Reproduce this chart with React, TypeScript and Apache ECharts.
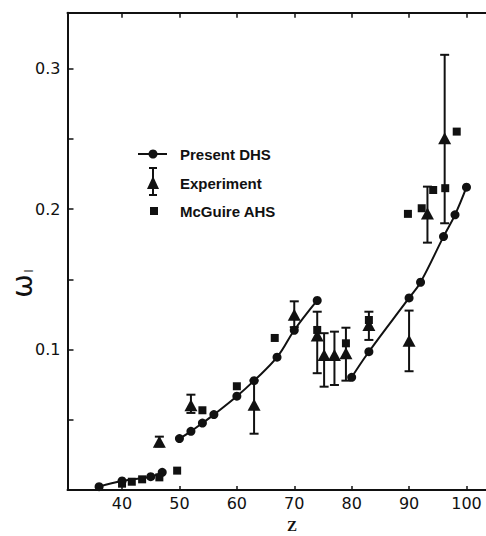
import React, { useEffect, useRef } from "react";
import * as echarts from "echarts";

// Present DHS calculation (three separate curve pieces)
const presentSeg1: [number, number][] = [
  [36, 0.0024], [40, 0.0064], [45, 0.0095], [47, 0.0126],
];
const presentSeg2: [number, number][] = [
  [50, 0.0366], [52, 0.0418], [54, 0.0477], [56, 0.0537], [60, 0.0668],
  [63, 0.0779], [67, 0.0946], [70, 0.1138], [74, 0.135],
];
const presentSeg3: [number, number][] = [
  [80, 0.0803], [83, 0.0985], [90, 0.1368], [92, 0.148], [96, 0.1805],
  [98, 0.196], [100, 0.2157],
];
// Experiment: [Z, value, low, high]
const experiment: [number, number, number, number][] = [
  [46.5, 0.0344, 0.031, 0.038],
  [52, 0.0603, 0.0549, 0.0679],
  [63, 0.0608, 0.0401, 0.078],
  [70, 0.1249, 0.116, 0.1344],
  [74, 0.110, 0.0832, 0.127],
  [75.2, 0.0962, 0.0736, 0.1117],
  [77, 0.0962, 0.0748, 0.1128],
  [79, 0.0974, 0.0779, 0.1156],
  [83, 0.1176, 0.1069, 0.127],
  [90, 0.1064, 0.0846, 0.1278],
  [93.2, 0.197, 0.1762, 0.2161],
  [96.2, 0.2506, 0.190, 0.310],
];
// McGuire AHS
const mcguire: [number, number][] = [
  [40, 0.0045], [41.7, 0.0059], [43.5, 0.0076], [46.5, 0.009], [49.6, 0.0138],
  [54, 0.0568], [60, 0.0739], [66.6, 0.1083], [74, 0.114], [79, 0.1045],
  [83, 0.1211], [89.8, 0.1967], [92.2, 0.2007], [94.2, 0.2137], [96.3, 0.215],
  [98.3, 0.2553],
];
const xTicks = [40, 50, 60, 70, 80, 90, 100];
const yTicks = [0.05, 0.1, 0.15, 0.2, 0.25, 0.3];
const yLabels = [0.1, 0.2, 0.3];
const legendNames = ["Present DHS", "Experiment", "McGuire AHS"];

const INK = "#111";

export default function App() {
  const ref = useRef<HTMLDivElement>(null);
  useEffect(() => {
    if (!ref.current) return;
    const chart = echarts.init(ref.current, undefined, { renderer: "svg" });
    const lineSeries = (data: [number, number][]) => ({
      type: "line",
      name: legendNames[0],
      data,
      smooth: 0.4,
      symbol: "circle",
      symbolSize: 9,
      itemStyle: { color: INK, opacity: 1 },
      lineStyle: { color: INK, width: 2 },
      z: 3,
    });
    const option: any = {
      animation: false,
      backgroundColor: "#fff",
      grid: { left: 67.5, right: 0, top: 12.7, bottom: 46 },
      xAxis: [
        {
          type: "value",
          min: 30.5,
          max: 103.4,
          axisLine: { show: true, lineStyle: { color: INK, width: 2 } },
          axisTick: { show: true, inside: true, length: 4, customValues: xTicks, lineStyle: { color: INK, width: 1.5 } },
          axisLabel: {
            customValues: xTicks,
            color: INK,
            fontFamily: "DejaVu Sans",
            fontSize: 16,
            margin: 5,
          },
          splitLine: { show: false },
        },
        {
          type: "value",
          position: "top",
          min: 30.5,
          max: 103.4,
          axisLine: { show: true, lineStyle: { color: INK, width: 2 } },
          axisTick: { show: true, inside: true, length: 5, customValues: xTicks, lineStyle: { color: INK, width: 1.5 } },
          axisLabel: { show: false },
          splitLine: { show: false },
        },
      ],
      yAxis: {
        type: "value",
        min: 0,
        max: 0.34,
        axisLine: { show: true, lineStyle: { color: INK, width: 2 } },
        axisTick: { show: true, inside: true, length: 6, customValues: yTicks, lineStyle: { color: INK, width: 1.5 } },
        axisLabel: {
          customValues: yLabels,
          formatter: (v: number) => v.toFixed(1),
          color: INK,
          fontFamily: "DejaVu Sans",
          fontSize: 16,
          margin: 7,
        },
        splitLine: { show: false },
      },
      graphic: [
        // y axis name: omega with subscript I, rotated
        { type: "text", x: 22, y: 286, rotation: Math.PI / 2, style: { text: "ω", font: "28px DejaVu Sans", fill: INK, align: "center", verticalAlign: "middle" } },
        { type: "text", x: 29, y: 271, rotation: Math.PI / 2, style: { text: "I", font: "12px DejaVu Sans", fill: INK, align: "center", verticalAlign: "middle" } },
        // x axis name
        { type: "text", x: 292, y: 526, style: { text: "Z", font: "bold 15px Liberation Serif", fill: INK, align: "center", verticalAlign: "middle" } },
        // legend
        { type: "line", shape: { x1: 138, y1: 154, x2: 167, y2: 154 }, style: { stroke: INK, lineWidth: 2 } },
        { type: "circle", shape: { cx: 153, cy: 154, r: 4.5 }, style: { fill: INK } },
        { type: "text", x: 180, y: 154, style: { text: legendNames[0], font: "bold 15px Liberation Sans", fill: INK, verticalAlign: "middle" } },
        { type: "line", shape: { x1: 153, y1: 168, x2: 153, y2: 195 }, style: { stroke: INK, lineWidth: 2 } },
        { type: "line", shape: { x1: 149, y1: 168, x2: 157, y2: 168 }, style: { stroke: INK, lineWidth: 2 } },
        { type: "line", shape: { x1: 149, y1: 195, x2: 157, y2: 195 }, style: { stroke: INK, lineWidth: 2 } },
        { type: "polygon", shape: { points: [[153, 176], [147, 189], [159, 189]] }, style: { fill: INK } },
        { type: "text", x: 180, y: 183, style: { text: legendNames[1], font: "bold 15px Liberation Sans", fill: INK, verticalAlign: "middle" } },
        { type: "rect", shape: { x: 150, y: 207, width: 8, height: 8 }, style: { fill: INK } },
        { type: "text", x: 180, y: 211, style: { text: legendNames[2], font: "bold 15px Liberation Sans", fill: INK, verticalAlign: "middle" } },
      ],
      series: [
        lineSeries(presentSeg1),
        lineSeries(presentSeg2),
        lineSeries(presentSeg3),
        {
          type: "custom",
          name: "Experiment error",
          data: experiment,
          encode: { x: 0, y: [2, 3] },
          z: 2,
          renderItem: (params: any, api: any) => {
            const x = api.value(0);
            const lo = api.coord([x, api.value(2)]);
            const hi = api.coord([x, api.value(3)]);
            const hw = 4.5;
            const st = { stroke: INK, lineWidth: 2 };
            return {
              type: "group",
              children: [
                { type: "line", shape: { x1: lo[0], y1: lo[1], x2: hi[0], y2: hi[1] }, style: st },
                { type: "line", shape: { x1: lo[0] - hw, y1: lo[1], x2: lo[0] + hw, y2: lo[1] }, style: st },
                { type: "line", shape: { x1: hi[0] - hw, y1: hi[1], x2: hi[0] + hw, y2: hi[1] }, style: st },
              ],
            };
          },
        },
        {
          type: "scatter",
          name: legendNames[1],
          data: experiment.map((d) => [d[0], d[1]]),
          symbol: "triangle",
          symbolSize: [13, 12],
          itemStyle: { color: INK, opacity: 1 },
          z: 4,
        },
        {
          type: "scatter",
          name: legendNames[2],
          data: mcguire,
          symbol: "rect",
          symbolSize: 8,
          itemStyle: { color: INK, opacity: 1 },
          z: 4,
        },
      ],
    };
    chart.setOption(option);
    return () => chart.dispose();
  }, []);
  return (
    <div
      ref={ref}
      style={{ position: "fixed", left: 0, top: 0, width: 486, height: 536, background: "#fff" }}
    />
  );
}
